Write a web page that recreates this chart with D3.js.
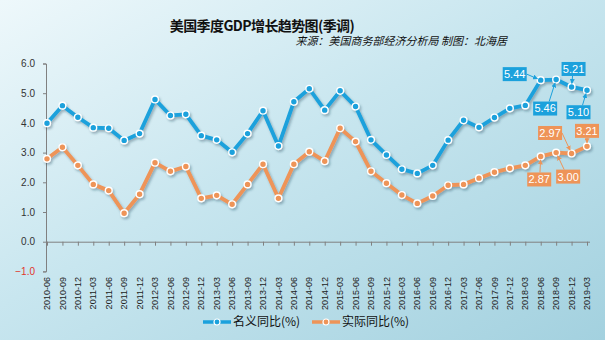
<!DOCTYPE html>
<html>
<head>
<meta charset="utf-8">
<script src="https://cdn.jsdelivr.net/npm/d3@7"></script>
<style>
  body { margin: 0; background: #fff; }
  svg { display: block; }
  text { font-family: "Liberation Sans", Arial, "Noto Sans CJK SC", sans-serif; }
  .cjk { font-family: "Noto Sans CJK SC", "Liberation Sans", sans-serif; }
</style>
</head>
<body>
<div id="chart"></div>
<script>
var categories = ["2010-06","2010-09","2010-12","2011-03","2011-06","2011-09","2011-12",
  "2012-03","2012-06","2012-09","2012-12","2013-03","2013-06","2013-09","2013-12",
  "2014-03","2014-06","2014-09","2014-12","2015-03","2015-06","2015-09","2015-12",
  "2016-03","2016-06","2016-09","2016-12","2017-03","2017-06","2017-09","2017-12",
  "2018-03","2018-06","2018-09","2018-12","2019-03"];

// 名义同比(%)
var nominal = [3.99,4.58,4.19,3.84,3.82,3.41,3.64,4.79,4.25,4.29,3.57,3.43,3.01,3.64,4.41,
  3.22,4.71,5.15,4.43,5.08,4.55,3.43,2.92,2.44,2.30,2.57,3.42,4.09,3.85,4.18,4.49,4.59,
  5.44,5.46,5.21,5.10];

// 实际同比(%)
var real = [2.79,3.18,2.57,1.93,1.72,0.96,1.60,2.66,2.37,2.53,1.46,1.56,1.26,1.93,2.61,
  1.46,2.61,3.03,2.71,3.82,3.37,2.37,1.97,1.57,1.29,1.54,1.90,1.93,2.14,2.34,2.47,2.57,
  2.87,3.00,2.97,3.21];

var yTicks = [-1,0,1,2,3,4,5,6];
var seriesNames = ["名义同比(%)", "实际同比(%)"];

var width = 605, height = 340;
var blue = "#1ba1dc", orange = "#ee9458";

var svg = d3.select("#chart").append("svg")
    .attr("width", width)
    .attr("height", height);

var defs = svg.append("defs");
var grad = defs.append("linearGradient")
    .attr("id", "bg")
    .attr("x1", "0").attr("y1", "0").attr("x2", "1").attr("y2", "1");
grad.append("stop").attr("offset", "0%").attr("stop-color", "#eef8fb");
grad.append("stop").attr("offset", "45%").attr("stop-color", "#c8e6ef");
grad.append("stop").attr("offset", "100%").attr("stop-color", "#a3d1df");

defs.append("filter")
    .attr("id", "shadow")
    .attr("x", "-5%").attr("y", "-5%").attr("width", "110%").attr("height", "120%")
  .append("feDropShadow")
    .attr("dx", 1.5).attr("dy", 2).attr("stdDeviation", 1)
    .attr("flood-color", "#1f3b4d").attr("flood-opacity", 0.35);

["blue", "orange"].forEach(function(n) {
  defs.append("marker")
      .attr("id", "arrow-" + n)
      .attr("viewBox", "0 0 10 10")
      .attr("refX", 9).attr("refY", 5)
      .attr("markerWidth", 5).attr("markerHeight", 5)
      .attr("orient", "auto")
    .append("path")
      .attr("d", "M0,0L10,5L0,10z")
      .attr("fill", n == "blue" ? blue : orange);
});

svg.append("rect")
    .attr("width", width).attr("height", height)
    .attr("fill", "url(#bg)");

// title
svg.append("text")
    .attr("class", "cjk")
    .attr("x", 262).attr("y", 31)
    .attr("text-anchor", "middle")
    .style("font-size", "14px").style("font-weight", "bold")
    .style("letter-spacing", "-0.6px")
    .attr("fill", "#111")
    .text("美国季度GDP增长趋势图(季调)");

svg.append("text")
    .attr("class", "cjk")
    .attr("x", 507).attr("y", 45)
    .attr("text-anchor", "end")
    .style("font-size", "11px").style("font-style", "italic")
    .attr("fill", "#111")
    .text("来源：美国商务部经济分析局  制图：北海居");

var x = d3.scalePoint().domain(categories).range([47, 587]);
var y = d3.scaleLinear().domain([-1, 6]).range([271.4, 63.5]);

// y axis
var yAxis = svg.append("g")
    .attr("transform", "translate(46,0)")
    .call(d3.axisLeft(y).tickValues(yTicks).tickFormat(d3.format(".1f")).tickSize(3).tickPadding(8));
yAxis.select(".domain").attr("stroke", "#808080");
yAxis.selectAll(".tick line").attr("stroke", "#808080");
yAxis.selectAll(".tick text")
    .style("font-size", "10px")
    .attr("fill", function(d) { return d < 0 ? "#e0352b" : "#333"; });

// x axis at zero
var xAxis = svg.append("g")
    .attr("transform", "translate(0," + y(0) + ")")
    .call(d3.axisBottom(x).tickSize(4).tickSizeOuter(0).tickFormat(""));
xAxis.select(".domain").attr("stroke", "#808080").attr("d", "M46,0.5H590");
xAxis.selectAll(".tick line").attr("stroke", "#808080");

// rotated category labels under the plot
svg.append("g").selectAll("text")
    .data(categories)
  .enter().append("text")
    .attr("transform", function(d) { return "translate(" + x(d) + ",277) rotate(-90)"; })
    .attr("text-anchor", "end")
    .attr("dy", "0.35em")
    .style("font-size", "9px")
    .attr("fill", "#222")
    .text(function(d) { return d; });

var line = d3.line()
    .x(function(d, i) { return x(categories[i]); })
    .y(function(d) { return y(d); });

var series = [
  { name: seriesNames[0], values: nominal, color: blue, key: "blue" },
  { name: seriesNames[1], values: real, color: orange, key: "orange" }
];

series.forEach(function(s) {
  var g = svg.append("g").attr("filter", "url(#shadow)");
  g.append("path")
      .datum(s.values)
      .attr("d", line)
      .attr("fill", "none")
      .attr("stroke", s.color)
      .attr("stroke-width", 3.8)
      .attr("stroke-linejoin", "round");
  g.selectAll("circle")
      .data(s.values)
    .enter().append("circle")
      .attr("cx", function(d, i) { return x(categories[i]); })
      .attr("cy", function(d) { return y(d); })
      .attr("r", 3.4)
      .attr("fill", s.color)
      .attr("stroke", "#fff")
      .attr("stroke-width", 1.4);
});

// data callouts: box centre offset from the point
var callouts = [
  { s: 0, i: 32, dx: -26, dy: -6 },
  { s: 0, i: 33, dx: -11, dy: 29 },
  { s: 0, i: 34, dx: 2, dy: -18 },
  { s: 0, i: 35, dx: -8.5, dy: 22 },
  { s: 1, i: 32, dx: -1.5, dy: 23 },
  { s: 1, i: 33, dx: 12, dy: 24 },
  { s: 1, i: 34, dx: -21.5, dy: -20.5 },
  { s: 1, i: 35, dx: 0, dy: -15.5 }
];
var bw = 24, bh = 14;

callouts.forEach(function(c) {
  var s = series[c.s];
  var v = s.values[c.i];
  var px = x(categories[c.i]), py = y(v);
  var cx = px + c.dx, cy = py + c.dy;
  // start the leader at the box edge
  var ex = cx, ey = cy;
  if (Math.abs(c.dy) > bh / 2 + 2 && Math.abs(c.dx) < 14) {
    ey = cy + (c.dy > 0 ? -bh / 2 : bh / 2);
    ex = cx + (c.dx > 0 ? -Math.min(Math.abs(c.dx), 8) : Math.min(Math.abs(c.dx), 8)) * 0.5;
  } else {
    ex = cx + (c.dx > 0 ? -bw / 2 : bw / 2);
  }
  var len = Math.hypot(px - ex, py - ey);
  var k = (len - 3.5) / len;
  svg.append("line")
      .attr("x1", ex).attr("y1", ey)
      .attr("x2", ex + (px - ex) * k).attr("y2", ey + (py - ey) * k)
      .attr("stroke", s.color)
      .attr("stroke-width", 1)
      .attr("marker-end", "url(#arrow-" + s.key + ")");
  svg.append("rect")
      .attr("x", cx - bw / 2).attr("y", cy - bh / 2)
      .attr("width", bw).attr("height", bh)
      .attr("fill", s.color);
  svg.append("text")
      .attr("x", cx).attr("y", cy)
      .attr("dy", "0.36em")
      .attr("text-anchor", "middle")
      .style("font-size", "11px")
      .attr("fill", "#fff")
      .text(v.toFixed(2));
});

// legend
var legend = svg.append("g");
var lx = [203, 312];
series.forEach(function(s, k) {
  var g = legend.append("g").attr("transform", "translate(" + lx[k] + ",322)");
  g.append("line")
      .attr("x1", 0).attr("x2", 28)
      .attr("stroke", s.color).attr("stroke-width", 3.5);
  g.append("circle")
      .attr("cx", 14).attr("r", 3)
      .attr("fill", s.color).attr("stroke", "#fff").attr("stroke-width", 1.2);
  g.append("text")
      .attr("class", "cjk")
      .attr("x", 30).attr("dy", "0.35em")
      .style("font-size", "12px")
      .attr("fill", "#111")
      .text(s.name);
});
</script>
</body>
</html>
